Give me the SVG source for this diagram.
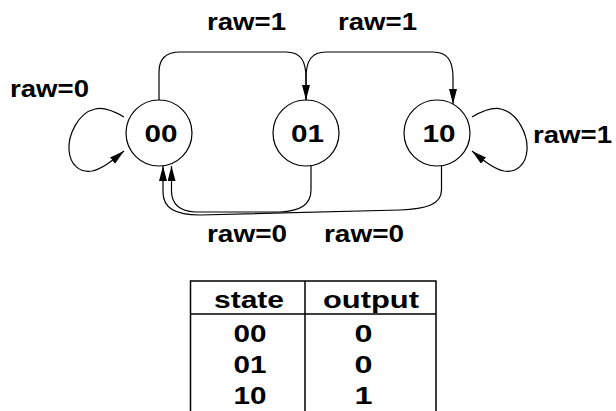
<svg xmlns="http://www.w3.org/2000/svg" width="616" height="411" viewBox="0 0 616 411">
<style>
  .t{font-family:"Liberation Sans",Arial,Helvetica,sans-serif;font-weight:bold;font-size:24px;fill:#000;}
  .node circle{fill:#fff;stroke:#000;stroke-width:1.2;}
  .edge{fill:none;stroke:#000;stroke-width:1.2;marker-end:url(#arr);}
  .tbl{stroke:#000;stroke-width:1.5;fill:none;}
</style>
<defs>
  <marker id="arr" markerUnits="userSpaceOnUse" markerWidth="16" markerHeight="9" refX="15" refY="4" orient="auto">
    <path d="M0,0 L15,4 L0,8 Z" fill="#000"/>
  </marker>
</defs>
<rect width="616" height="411" fill="#fff"/>
<g id="connectors">
  <path class="edge" d="M159,100 L159,72 C159,58 166,52 180,52 L286,52 C300,52 306,60 306,78 L306,100"/>
  <path class="edge" d="M306,100 L306,78 C306,60 312,52 326,52 L433,52 C447,52 453,60 453,78 L453,104"/>
  <path class="edge" d="M124,117 C112,110 103,107 95,109 C78,113 68,135 69,150 C70,165 80,173 92,171 C102,169 112,161 124,151"/>
  <path class="edge" d="M472,117 C484,110 493,107 501,109 C518,113 528,135 527,150 C526,165 516,173 504,171 C494,169 484,161 472,151"/>
  <path class="edge" d="M311,166 L311,190 C311,205 300,211 280,212 L195,212 C180,211 172,205 171.5,192 L171.5,166"/>
  <path class="edge" d="M441.5,166 L441.5,190 C441.5,205 425,209 400,210 L200,215 C175,215 163,208 163,192 L163,166"/>
</g>
<g id="node-00" class="node">
  <circle cx="159" cy="133" r="33"/>
  <text class="t" x="161" y="141.5" text-anchor="middle" textLength="33" lengthAdjust="spacingAndGlyphs">00</text>
</g>
<g id="node-01" class="node">
  <circle cx="306" cy="133" r="33"/>
  <text class="t" x="307.5" y="141.5" text-anchor="middle" textLength="33" lengthAdjust="spacingAndGlyphs">01</text>
</g>
<g id="node-10" class="node">
  <circle cx="437" cy="133" r="33"/>
  <text class="t" x="439" y="141.5" text-anchor="middle" textLength="33" lengthAdjust="spacingAndGlyphs">10</text>
</g>
<g id="labels">
  <text class="t" x="10" y="97" textLength="79" lengthAdjust="spacingAndGlyphs">raw=0</text>
  <text class="t" x="207" y="30" textLength="79" lengthAdjust="spacingAndGlyphs">raw=1</text>
  <text class="t" x="338" y="30" textLength="79" lengthAdjust="spacingAndGlyphs">raw=1</text>
  <text class="t" x="533" y="143" textLength="79" lengthAdjust="spacingAndGlyphs">raw=1</text>
  <text class="t" x="207" y="241.5" textLength="80" lengthAdjust="spacingAndGlyphs">raw=0</text>
  <text class="t" x="324" y="241.5" textLength="80" lengthAdjust="spacingAndGlyphs">raw=0</text>
</g>
<g id="table">
  <path class="tbl" d="M190.5,420 L190.5,281 L436,281 L436,420 M190.5,314 L436,314 M305,281 L305,420"/>
  <text class="t" x="249" y="308" text-anchor="middle" textLength="70" lengthAdjust="spacingAndGlyphs">state</text>
  <text class="t" x="371" y="308" text-anchor="middle" textLength="96" lengthAdjust="spacingAndGlyphs">output</text>
  <text class="t" x="250" y="342" text-anchor="middle" textLength="33" lengthAdjust="spacingAndGlyphs">00</text>
  <text class="t" x="250" y="373" text-anchor="middle" textLength="33" lengthAdjust="spacingAndGlyphs">01</text>
  <text class="t" x="250" y="404" text-anchor="middle" textLength="33" lengthAdjust="spacingAndGlyphs">10</text>
  <text class="t" x="363.5" y="342" text-anchor="middle" textLength="18" lengthAdjust="spacingAndGlyphs">0</text>
  <text class="t" x="363.5" y="373" text-anchor="middle" textLength="18" lengthAdjust="spacingAndGlyphs">0</text>
  <text class="t" x="363.5" y="404" text-anchor="middle" textLength="18" lengthAdjust="spacingAndGlyphs">1</text>
</g>
</svg>
